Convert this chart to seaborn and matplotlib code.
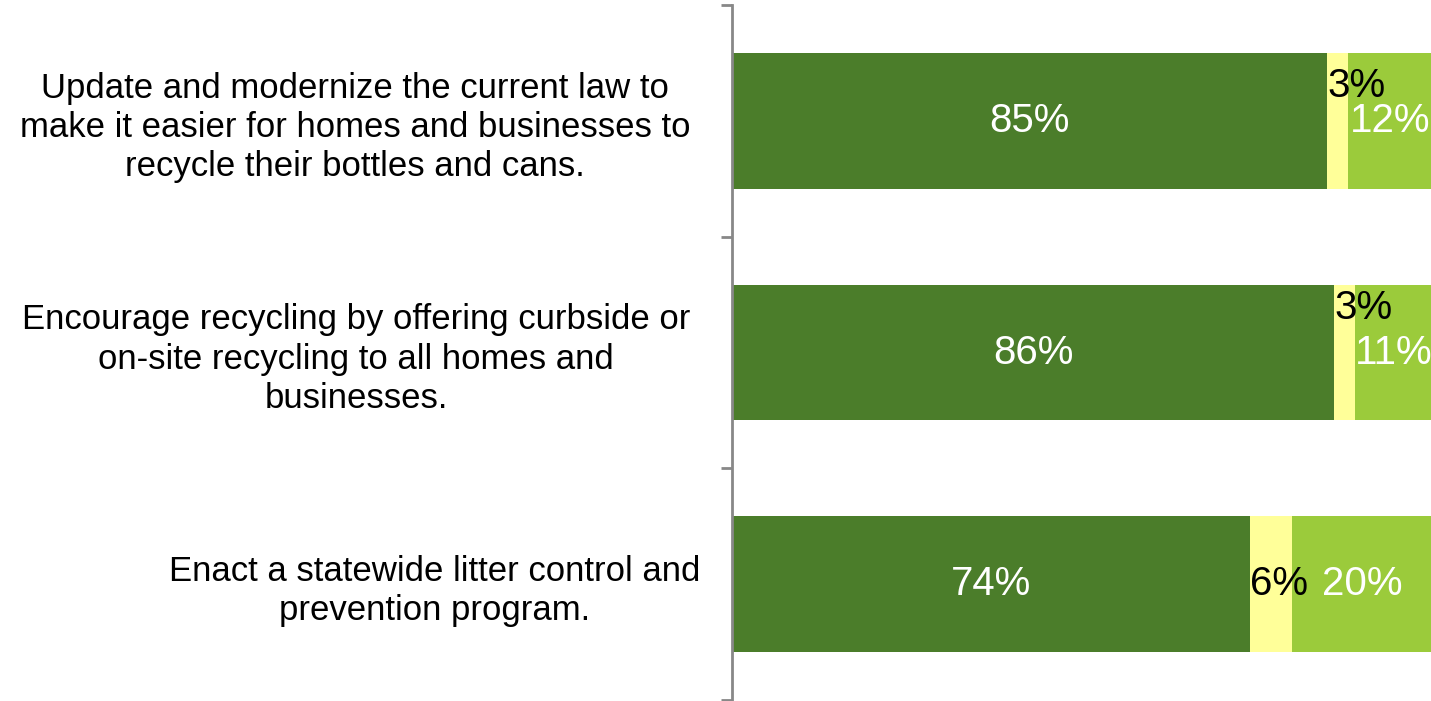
import matplotlib
matplotlib.use("Agg")
import matplotlib.pyplot as plt
import matplotlib.transforms as mtransforms
import seaborn as sns
import pandas as pd
import numpy as np

categories = [
    "Update and modernize the current law to\nmake it easier for homes and businesses to\nrecycle their bottles and cans.",
    "Encourage recycling by offering curbside or\non-site recycling to all homes and\nbusinesses.",
    "Enact a statewide litter control and\nprevention program.",
]
support = [85, 86, 74]
unsure = [3, 3, 6]
oppose = [12, 11, 20]

# label vertical offsets for the small yellow labels (category units)
unsure_dy = [-0.15, -0.19, 0.0]
oppose_dy = [0.0, 0.0, 0.0]

dark_green = "#4B7D2A"
yellow = "#FFFF99"
light_green = "#9BCB3B"

sns.set_theme(style="white")
plt.rcParams['font.family'] = ['Liberation Sans', 'DejaVu Sans']

fig = plt.figure(figsize=(14.31, 7.01), dpi=100)
ax = fig.add_axes([732/1431, 1 - 700/701, 1 - 732/1431 + 0.001, 695/701])

df = pd.DataFrame({"cat": categories, "support": support, "unsure": unsure, "oppose": oppose})
df["c2"] = df["support"] + df["unsure"]
df["c3"] = df["c2"] + df["oppose"]

w = 136 / 231.7
sns.barplot(data=df, y="cat", x="c3", color=light_green, saturation=1, width=w, ax=ax, orient="h", linewidth=0)
sns.barplot(data=df, y="cat", x="c2", color=yellow, saturation=1, width=w, ax=ax, orient="h", linewidth=0)
sns.barplot(data=df, y="cat", x="support", color=dark_green, saturation=1, width=w, ax=ax, orient="h", linewidth=0)

fs = 29
for i in range(len(categories)):
    s, u, o = support[i], unsure[i], oppose[i]
    ax.text(s / 2, i, f"{s}%", ha="center", va="center", color="white", fontsize=fs)
    ax.text(s, i + unsure_dy[i], f"{u}%", ha="left", va="center", color="black", fontsize=fs)
    ax.text(s + u + o / 2, i + oppose_dy[i], f"{o}%", ha="center", va="center", color="white", fontsize=fs)

ax.set_xlim(0, 100)
ax.set_ylim(2.5, -0.5)
ax.set_xlabel("")
ax.set_ylabel("")
ax.set_xticks([])

for sp in ["top", "right", "bottom"]:
    ax.spines[sp].set_visible(False)
ax.spines["left"].set_color("#888888")
ax.spines["left"].set_linewidth(2)

ax.set_yticks([0, 1, 2])
ax.set_yticklabels(categories, fontsize=25, color="black")
ax.tick_params(axis="y", which="major", length=0, pad=30)
ax.set_yticks([-0.5, 0.5, 1.5, 2.5], minor=True)
ax.tick_params(axis="y", which="minor", length=8, width=2, color="#888888", left=True)
labs = ax.get_yticklabels()
for lab in labs:
    lab.set_multialignment("center")
    lab.set_linespacing(1.24)
labs[2].set_transform(labs[2].get_transform() +
                      mtransforms.ScaledTranslation(10 / 100, 0, fig.dpi_scale_trans))
ax.set_facecolor("white")
fig.patch.set_facecolor("white")

fig.savefig("out.png", dpi=100, facecolor="white")
